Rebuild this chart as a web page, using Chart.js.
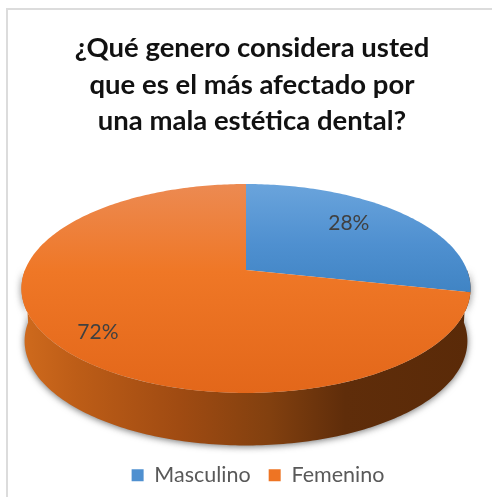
<!DOCTYPE html>
<html><head><meta charset="utf-8">
<style>html,body{margin:0;padding:0;background:#fff;overflow:hidden}#w{position:absolute;left:0;top:0;width:492px;height:497px}canvas{filter:blur(0.7px)}</style>
<script src="https://cdn.jsdelivr.net/npm/chart.js@4"></script></head>
<body><div id="w"><canvas id="c" width="492" height="497"></canvas></div>
<script>
const categories = ['Masculino', 'Femenino'];
const values = [28.4, 71.6];
const sliceColors = ['#4f90d0', '#ee7423'];
const titleLines = ['¿Qué genero considera usted', 'que es el más afectado por', 'una mala estética dental?'];

// perspective of the tilted disc
const CX = 246, RX = 221, A = 53.4, B = 270, C = -0.177, DEPTH = 52.5, SHRINK = 0.986;
function proj(r, ang) { // ang: chart.js arc angle, r: 0..1 of outerRadius
  const u = r * Math.cos(ang), v = r * Math.sin(ang), w = 1 + C * v;
  return [CX + RX * u / w, (A * v + B) / w];
}
function arcPoints(a0, a1) {
  const n = Math.max(2, Math.ceil((a1 - a0) * 60)), pts = [];
  for (let i = 0; i <= n; i++) pts.push(proj(1, a0 + (a1 - a0) * i / n));
  return pts;
}
const pie3d = {
  id: 'pie3d',
  afterLayout(chart) {
    chart.legend.left += 6;
    chart.legend.right += 6;
  },
  beforeDatasetDraw(chart) {
    const ctx = chart.ctx, arcs = chart.getDatasetMeta(0).data;
    ctx.save();
    const rim = arcPoints(0, Math.PI);
    const wall = () => {
      ctx.beginPath();
      rim.forEach((p, i) => i ? ctx.lineTo(p[0], p[1]) : ctx.moveTo(p[0], p[1]));
      for (let i = rim.length - 1; i >= 0; i--) {
        const p = rim[i];
        ctx.lineTo(CX + (p[0] - CX) * SHRINK, p[1] + DEPTH);
      }
      ctx.closePath();
    };
    const g = ctx.createLinearGradient(22, 0, 471, 0);
    g.addColorStop(0, '#cf6a1d');
    g.addColorStop(0.12, '#bd5d17');
    g.addColorStop(0.35, '#a04b12');
    g.addColorStop(0.55, '#82400f');
    g.addColorStop(0.72, '#5f2d0a');
    g.addColorStop(1, '#5a2a08');
    ctx.save();
    ctx.shadowColor = 'rgba(50,50,50,0.7)';
    ctx.shadowBlur = 7;
    ctx.shadowOffsetY = 1;
    ctx.fillStyle = g;
    wall(); ctx.fill();
    ctx.restore();
    const fills = [
      ['#6aa4dc', '#4f90d0', '#4084c4'],
      ['#ec8a52', '#ef7726', '#e3671a']
    ];
    arcs.forEach((arc, i) => {
      const pts = arcPoints(arc.startAngle, arc.endAngle);
      const gr = ctx.createLinearGradient(0, 184, 0, i ? 393 : 292);
      const f = fills[i];
      gr.addColorStop(0, f[0]);
      gr.addColorStop(i ? 0.42 : 0.55, f[1]);
      gr.addColorStop(1, f[2]);
      ctx.fillStyle = gr;
      ctx.beginPath();
      const c = proj(0, 0);
      ctx.moveTo(c[0], c[1]);
      pts.forEach(p => ctx.lineTo(p[0], p[1]));
      ctx.closePath();
      ctx.fill();
    });
    ctx.restore();
    return false;
  },
  afterDatasetsDraw(chart) {
    const ctx = chart.ctx, arcs = chart.getDatasetMeta(0).data;
    const total = values.reduce((a, b) => a + b, 0);
    const place = [{ r: 0.64, dy: -9, dx: 0 }, { r: 0.8, dy: 6, dx: 3 }];
    ctx.save();
    ctx.font = '21px Lato, "Open Sans", sans-serif';
    ctx.fillStyle = '#404040';
    ctx.textAlign = 'center';
    ctx.textBaseline = 'middle';
    arcs.forEach((arc, i) => {
      const p = proj(place[i].r, (arc.startAngle + arc.endAngle) / 2);
      ctx.fillText(Math.round(values[i] / total * 100) + '%', p[0] + place[i].dx, p[1] + place[i].dy);
    });
    ctx.restore();
  }
};
const frame = {
  id: 'frame',
  beforeDraw(chart) {
    const ctx = chart.ctx;
    ctx.save();
    ctx.strokeStyle = '#dcdcdc';
    ctx.lineWidth = 2;
    ctx.beginPath();
    ctx.moveTo(7, 497); ctx.lineTo(7, 9); ctx.lineTo(492, 9);
    ctx.stroke();
    ctx.restore();
  }
};
new Chart(document.getElementById('c'), {
  type: 'pie',
  data: { labels: categories, datasets: [{ data: values, backgroundColor: sliceColors, borderWidth: 0 }] },
  options: {
    responsive: false, animation: false,
    layout: { padding: { left: 12, right: 0, top: 0, bottom: 1 } },
    plugins: {
      tooltip: { enabled: false },
      title: {
        display: true, text: titleLines, color: '#111',
        font: { family: 'Lato, "Open Sans", sans-serif', size: 27.5, weight: 'bold', lineHeight: 1.33 },
        padding: { top: 30, bottom: 10 }
      },
      legend: {
        position: 'bottom',
        labels: {
          color: '#595959', boxWidth: 12, boxHeight: 12, padding: 18,
          font: { family: 'Lato, "Open Sans", sans-serif', size: 21.5 }
        }
      }
    }
  },
  plugins: [frame, pie3d]
});
</script></body></html>
